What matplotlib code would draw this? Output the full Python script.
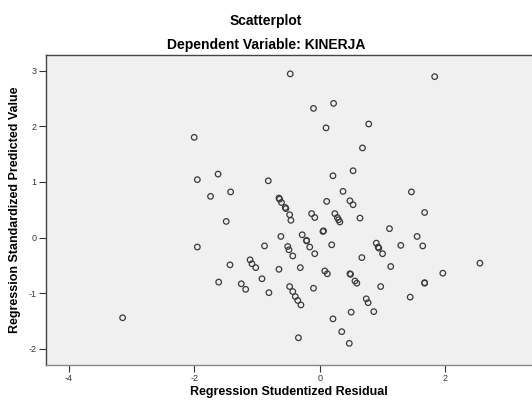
import matplotlib
matplotlib.use("Agg")
import matplotlib.pyplot as plt

plt.rcParams['font.family'] = ['Liberation Sans', 'DejaVu Sans']
plt.rcParams['axes.unicode_minus'] = False

# studentized residual (x) vs standardized predicted value (y)
residual = [-2.00, -1.95, -1.74, -1.62, -1.95, -3.14, -1.61, -0.47, -0.10, 0.22,
            0.10, 0.78, 0.68, -0.82, 0.21, 0.53, -1.42, 0.37, 0.11, 0.48,
            0.53, -0.65, -0.64, -0.61, -0.55, -0.54, -0.48, -0.46, -1.49, -0.13,
            -0.08, 0.05, 0.06, -0.62, -0.28, -0.21, -0.21, -0.16, -0.08, -0.88,
            -0.51, -0.49, -0.43, -1.11, -1.08, -1.02, -1.43, -0.65, -0.31, 0.08,
            0.12, -0.92, -1.25, 0.24, 0.28, 0.30, 0.32, 0.64, 0.19, 1.11,
            1.67, 1.55, 1.64, 1.29, 0.90, 0.93, 0.94, 1.00, 0.67, 1.13,
            0.48, 0.49, 0.56, 0.59, 1.67, 1.67, -1.18, -0.81, -0.48, -0.43,
            -0.39, -0.35, -0.30, -0.10, -0.34, 0.97, 1.44, 0.74, 0.77, 0.50,
            0.86, 0.21, 0.35, 0.47, 1.83, 1.46, 2.55, 1.96]
predicted = [1.80, 1.04, 0.74, 1.14, -0.17, -1.44, -0.80, 2.94, 2.32, 2.41,
             1.97, 2.04, 1.61, 1.02, 1.11, 1.20, 0.82, 0.83, 0.65, 0.66,
             0.59, 0.71, 0.69, 0.63, 0.54, 0.52, 0.41, 0.31, 0.29, 0.43,
             0.36, 0.11, 0.12, 0.02, 0.05, -0.06, -0.05, -0.17, -0.29, -0.15,
             -0.16, -0.22, -0.33, -0.40, -0.47, -0.54, -0.49, -0.57, -0.54, -0.60,
             -0.65, -0.74, -0.83, 0.43, 0.36, 0.32, 0.28, 0.35, -0.13, 0.16,
             0.45, 0.02, -0.15, -0.14, -0.10, -0.17, -0.19, -0.29, -0.36, -0.52,
             -0.65, -0.66, -0.78, -0.82, -0.81, -0.82, -0.93, -0.99, -0.88, -0.97,
             -1.06, -1.13, -1.21, -0.91, -1.80, -0.88, -1.07, -1.10, -1.17, -1.34,
             -1.33, -1.46, -1.69, -1.90, 2.89, 0.82, -0.46, -0.64]

xticks = [-4, -2, 0, 2]
yticks = [-2, -1, 0, 1, 2, 3]

fig = plt.figure(figsize=(5.32, 4.01), dpi=100)
ax = fig.add_axes([0.0865, 0.091, 0.9135, 0.772])
ax.set_facecolor('#F0F0F0')

ax.scatter(residual, predicted, s=16, facecolors='none', edgecolors='#3a3a3a', linewidths=0.9)

ax.set_xlim(-4.36, 3.38)
ax.set_ylim(-2.28, 3.28)
ax.set_xticks(xticks)
ax.set_yticks(yticks)
ax.tick_params(labelsize=6.5, length=5, width=0.8, colors='#333333', pad=2)

for side in ['left', 'top']:
    ax.spines[side].set_color('#444444')
    ax.spines[side].set_linewidth(1.0)
ax.spines['bottom'].set_color('#888888')
ax.spines['bottom'].set_linewidth(1.0)
ax.spines['right'].set_visible(False)

ax.set_xlabel("Regression Studentized Residual", fontsize=9, fontweight='bold', labelpad=2)
ax.set_ylabel("Regression Standardized Predicted Value", fontsize=9, fontweight='bold', labelpad=5)

fig.text(0.5, 0.948, "Scatterplot", ha='center', va='center', fontsize=10, fontweight='bold')
fig.text(0.5, 0.888, "Dependent Variable: KINERJA", ha='center', va='center', fontsize=10, fontweight='bold')

fig.savefig("out.png", dpi=100)
